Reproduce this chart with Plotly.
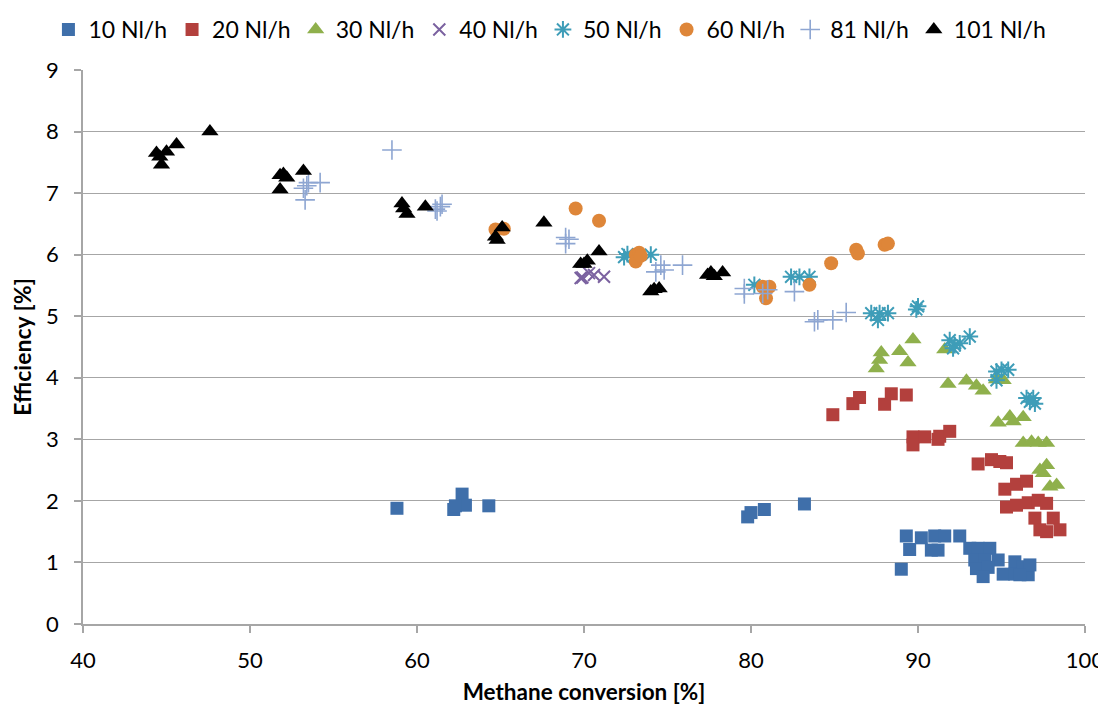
import plotly.graph_objects as go

# ---- data ----
x10 = [58.8, 62.7, 62.2, 62.9, 62.3, 64.3, 79.8, 80.0, 80.8, 83.2,
       89.0, 89.3, 89.5, 90.2, 91.0, 91.6, 90.8, 91.2, 92.5, 93.1, 93.6, 94.3,
       93.4, 94.0, 94.8, 93.5, 94.2, 93.9, 95.1, 95.8, 95.8, 96.3, 96.6, 96.7, 96.1]
y10 = [1.88, 2.11, 1.86, 1.93, 1.92, 1.92, 1.74, 1.81, 1.86, 1.95,
       0.89, 1.43, 1.21, 1.40, 1.43, 1.43, 1.20, 1.20, 1.43, 1.23, 1.23, 1.23,
       1.04, 1.04, 1.04, 0.90, 0.92, 0.77, 0.81, 1.01, 0.81, 0.93, 0.80, 0.96, 0.80]

x20 = [84.9, 86.1, 86.5, 88.0, 88.4, 89.3, 89.7, 89.7, 90.4, 91.2, 91.3, 91.9,
       93.6, 94.4, 94.9, 95.3, 95.2, 95.9, 96.5, 95.3, 95.9, 96.6, 97.2, 97.7,
       97.0, 98.1, 97.7, 98.5, 97.3]
y20 = [3.40, 3.58, 3.68, 3.57, 3.74, 3.72, 3.04, 2.91, 3.04, 3.00, 3.05, 3.13,
       2.60, 2.67, 2.64, 2.62, 2.19, 2.27, 2.32, 1.90, 1.93, 1.97, 2.01, 1.96,
       1.72, 1.72, 1.50, 1.53, 1.53]

x30 = [89.7, 87.8, 87.7, 87.5, 88.9, 89.4, 91.6, 91.8, 92.9, 93.5, 93.9, 94.7, 95.1,
       94.8, 95.5, 95.7, 96.3, 96.3, 96.8, 97.2, 97.7, 97.3, 97.7, 97.9, 98.3, 97.5]
y30 = [4.62, 4.41, 4.29, 4.15, 4.43, 4.25, 4.46, 3.90, 3.95, 3.87, 3.79, 3.97, 3.96,
       3.27, 3.37, 3.29, 3.36, 2.94, 2.96, 2.94, 2.94, 2.50, 2.58, 2.23, 2.26, 2.45]

x40 = [69.9, 70.3, 71.2, 70.6, 69.8]
y40 = [5.63, 5.70, 5.64, 5.67, 5.62]

x50 = [72.4, 72.6, 74.0, 80.2, 82.4, 82.9, 83.5, 87.2, 87.7, 87.6, 88.2,
       89.9, 90.0, 91.9, 92.2, 92.5, 92.1, 93.1, 94.7, 95.0, 95.4, 94.7,
       96.5, 96.9, 97.0, 96.7]
y50 = [5.96, 6.01, 6.00, 5.51, 5.64, 5.64, 5.64, 5.05, 5.05, 4.94, 5.05,
       5.11, 5.16, 4.61, 4.53, 4.56, 4.48, 4.67, 4.10, 4.13, 4.13, 3.96,
       3.67, 3.67, 3.58, 3.61]

x60 = [69.5, 70.9, 64.7, 65.2, 73.1, 73.3, 73.1, 73.4, 80.7, 81.1, 80.9,
       83.5, 84.8, 86.3, 86.4, 88.0, 88.2]
y60 = [6.75, 6.55, 6.41, 6.42, 6.00, 6.03, 5.89, 5.98, 5.48, 5.48, 5.29,
       5.51, 5.86, 6.08, 6.02, 6.16, 6.18]

x81 = [58.5, 53.2, 53.3, 53.5, 54.2, 53.4, 61.1, 61.4, 61.5, 61.2, 68.9, 68.9, 69.1,
       74.6, 74.3, 74.8, 75.9, 79.6, 79.6, 80.7, 81.0, 82.6, 83.8, 84.0, 84.9, 85.7]
y81 = [7.70, 7.08, 6.89, 7.17, 7.17, 7.12, 6.74, 6.78, 6.82, 6.71, 6.28, 6.18, 6.25,
       5.83, 5.72, 5.75, 5.83, 5.45, 5.36, 5.37, 5.43, 5.40, 4.91, 4.94, 4.94, 5.06]

x101 = [47.6, 44.4, 45.0, 45.6, 44.7, 44.6, 51.8, 52.0, 52.2, 51.8, 53.2,
        59.1, 59.2, 59.4, 60.5, 64.7, 64.8, 65.1, 67.6, 69.8, 70.2, 70.0, 70.9,
        74.2, 74.5, 74.0, 77.4, 77.8, 78.3, 77.6]
y101 = [8.00, 7.65, 7.67, 7.79, 7.46, 7.59, 7.29, 7.31, 7.25, 7.06, 7.36,
        6.83, 6.75, 6.66, 6.78, 6.29, 6.24, 6.44, 6.52, 5.85, 5.90, 5.85, 6.05,
        5.44, 5.45, 5.40, 5.67, 5.65, 5.71, 5.71]

x_ticks = [40, 50, 60, 70, 80, 90, 100]
y_ticks = [0, 1, 2, 3, 4, 5, 6, 7, 8, 9]

FONT = "Lato"

series = [
    ("10 Nl/h", x10, y10, "square", "#3F6FAA", 13, None),
    ("20 Nl/h", x20, y20, "square", "#B3403D", 13, None),
    ("30 Nl/h", x30, y30, "triangle-up", "#8FB04C", 15, None),
    ("40 Nl/h", x40, y40, "x-thin-open", "#7B62A0", 12, 2),
    ("50 Nl/h", x50, y50, "asterisk-open", "#3E9DB8", 14, 2),
    ("60 Nl/h", x60, y60, "circle", "#DE8639", 14, None),
    ("81 Nl/h", x81, y81, "cross-thin-open", "#8EA6D2", 14, 1.6),
    ("101 Nl/h", x101, y101, "triangle-up", "#000000", 15, None),
]

fig = go.Figure()
for name, xs, ys, sym, col, sz, lw in series:
    marker = dict(symbol=sym, size=sz, color=col)
    if lw is not None:
        marker["line"] = dict(color=col, width=lw)
    else:
        marker["line"] = dict(width=0)
    fig.add_trace(go.Scatter(x=xs, y=ys, mode="markers", name=name, marker=marker))

# page body adds an 8px margin, so the figure is 8px smaller on each axis
fig.update_layout(
    width=1098, height=702,
    paper_bgcolor="white", plot_bgcolor="white",
    margin=dict(l=75, r=21, t=62, b=86),
    font=dict(family=FONT, size=22, color="black"),
    legend=dict(orientation="h", x=0.466, xanchor="center", y=1.0, yanchor="top",
                yref="container", font=dict(family=FONT, size=23),
                itemwidth=30, tracegroupgap=0),
    showlegend=True,
)

fig.update_xaxes(
    range=[40, 100], tickvals=x_ticks, ticktext=[str(v) for v in x_ticks],
    showgrid=False, zeroline=False, automargin=False,
    showline=True, linecolor="#A6A6A6", linewidth=1.5,
    ticks="outside", ticklen=7, tickcolor="#A6A6A6", tickwidth=1.5,
    ticklabelstandoff=9,
    tickfont=dict(family=FONT, size=22),
    title=dict(text="<b>Methane conversion [%]</b>", font=dict(family=FONT, size=22.5), standoff=12),
)
fig.update_yaxes(
    range=[0, 9], tickvals=y_ticks, ticktext=[str(v) for v in y_ticks],
    showgrid=True, gridcolor="#A6A6A6", gridwidth=1.2, zeroline=False, automargin=False,
    showline=True, linecolor="#A6A6A6", linewidth=1.5,
    ticks="outside", ticklen=7, tickcolor="#A6A6A6", tickwidth=1.5,
    ticklabelstandoff=11,
    tickfont=dict(family=FONT, size=22),
    title=dict(text="<b>Efficiency [%]</b>", font=dict(family=FONT, size=23), standoff=10),
)

fig.write_html("out.html")
